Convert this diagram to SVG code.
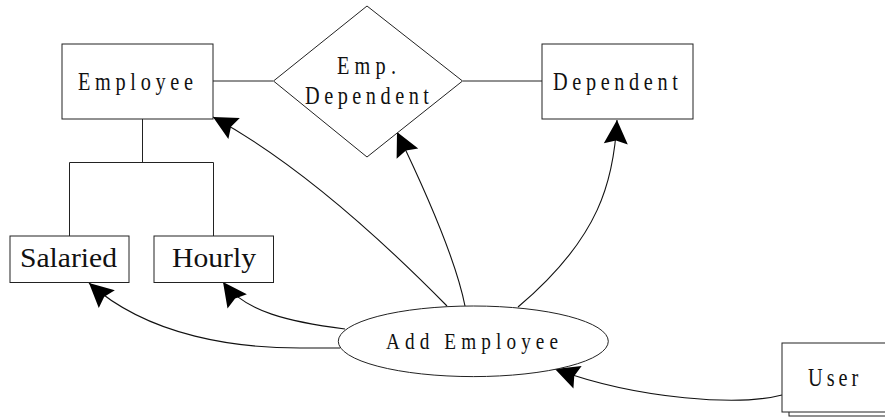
<svg xmlns="http://www.w3.org/2000/svg" width="885" height="419" viewBox="0 0 885 419">
  <style>
    .shape { fill: #ffffff; stroke: #222222; stroke-width: 1; }
    .link { fill: none; stroke: #222222; stroke-width: 1; }
    .flow { fill: none; stroke: #111111; stroke-width: 1.1; marker-end: url(#head); }
    .lbl { font-family: "Liberation Serif", "Times New Roman", serif; fill: #111111; }
    .wide { font-size: 26px; }
    .plain { font-size: 27px; }
  </style>
  <defs>
    <!-- notched dart arrowhead, tip at the path end -->
    <marker id="head" viewBox="-26 -13 27 26" markerWidth="27" markerHeight="26" refX="0" refY="0" orient="auto" markerUnits="userSpaceOnUse">
      <path d="M0,0 L-24,-12 L-20.5,0 L-24,12 Z" fill="#000000"/>
    </marker>
  </defs>

  <!-- structural links: relationship lines and subtype tree -->
  <g id="links">
    <line class="link" x1="213" y1="81" x2="273" y2="81"/>
    <line class="link" x1="463" y1="81" x2="542" y2="81"/>
    <polyline class="link" points="142.5,119 142.5,162.5"/>
    <polyline class="link" points="69.5,236 69.5,162.5 213.5,162.5 213.5,236"/>
  </g>

  <!-- process flows from Add Employee -->
  <g id="connectors">
    <path class="flow" d="M447,306 Q316,173 213,117"/>
    <path class="flow" d="M465,306 Q454,250 397,132"/>
    <path class="flow" d="M518,307 C600,238 614,180 617,120"/>
    <path class="flow" d="M340,348 L300,348 C240,348 150,338 89,283"/>
    <path class="flow" d="M345,329 C290,322 245,312 223,282"/>
    <path class="flow" d="M782,395 C740,406 640,400 555,369"/>
  </g>

  <g id="employee">
    <rect class="shape" x="62" y="44" width="151" height="75"/>
    <text class="lbl wide" transform="translate(78,90) scale(0.78,1)" textLength="147.4" lengthAdjust="spacing">Employee</text>
  </g>

  <g id="emp-dependent">
    <polygon class="shape" points="367,6 462.5,81 367,157 273.5,81"/>
    <text class="lbl wide" transform="translate(337,74) scale(0.78,1)" textLength="75.6" lengthAdjust="spacing">Emp.</text>
    <text class="lbl wide" transform="translate(305,104) scale(0.78,1)" textLength="159" lengthAdjust="spacing">Dependent</text>
  </g>

  <g id="dependent">
    <rect class="shape" x="542" y="44" width="151" height="75"/>
    <text class="lbl wide" transform="translate(553,90) scale(0.78,1)" textLength="160" lengthAdjust="spacing">Dependent</text>
  </g>

  <g id="salaried">
    <rect class="shape" x="10" y="236" width="119" height="46.5"/>
    <text class="lbl plain" x="20" y="267" textLength="97" lengthAdjust="spacingAndGlyphs">Salaried</text>
  </g>

  <g id="hourly">
    <rect class="shape" x="154" y="236" width="119.5" height="46.5"/>
    <text class="lbl plain" x="172" y="267" textLength="84" lengthAdjust="spacingAndGlyphs">Hourly</text>
  </g>

  <g id="add-employee">
    <ellipse class="shape" cx="473.3" cy="341.3" rx="135" ry="35.3"/>
    <text class="lbl" font-size="24" transform="translate(386,349) scale(0.8,1)" textLength="215" lengthAdjust="spacing">Add Employee</text>
  </g>

  <g id="user">
    <rect class="shape" x="789" y="347" width="120" height="69"/>
    <rect class="shape" x="782" y="343" width="120" height="69"/>
    <text class="lbl wide" transform="translate(808,386) scale(0.78,1)" textLength="64.5" lengthAdjust="spacing">User</text>
  </g>
</svg>
